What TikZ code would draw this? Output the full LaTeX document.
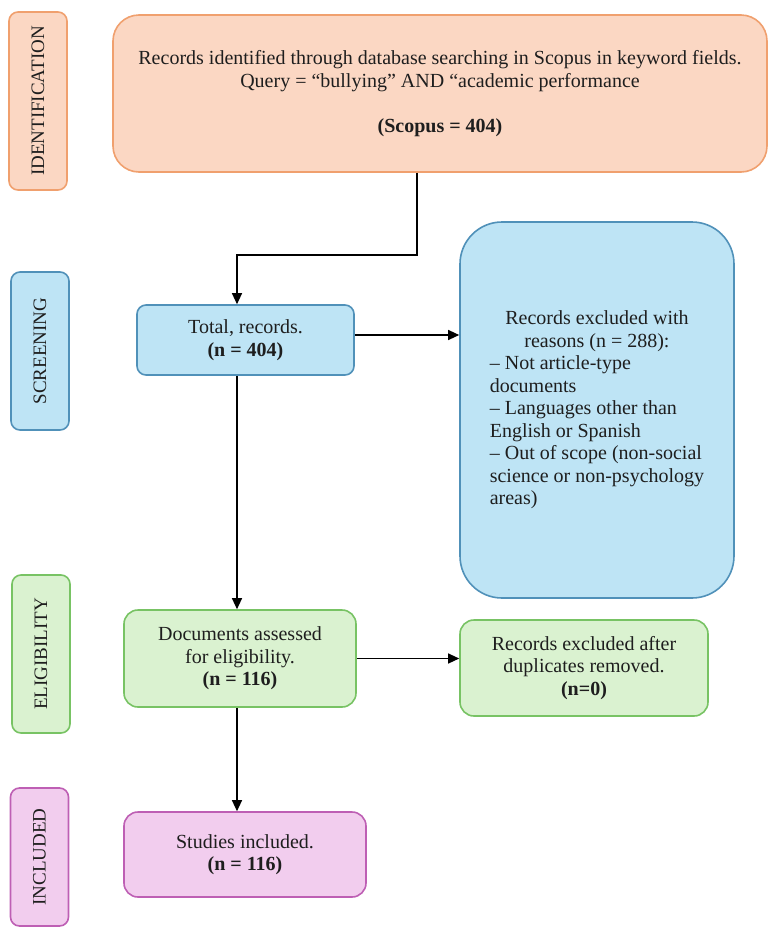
\documentclass[tikz,border=0pt]{standalone}
\usepackage{fontspec}
\setmainfont{Liberation Serif}
\usetikzlibrary{arrows.meta}
\definecolor{orF}{RGB}{251,215,195}
\definecolor{orD}{RGB}{240,160,110}
\definecolor{blF}{RGB}{190,228,245}
\definecolor{blD}{RGB}{80,145,185}
\definecolor{grF}{RGB}{218,242,208}
\definecolor{grD}{RGB}{120,195,100}
\definecolor{pkF}{RGB}{242,205,238}
\definecolor{pkD}{RGB}{190,95,180}
\definecolor{txt}{RGB}{30,30,30}
\begin{document}
\begin{tikzpicture}[x=1pt,y=-1pt,
  box/.style={draw,line width=1.6pt,align=center,text=txt,inner sep=0pt,
    font=\fontsize{20}{22.5}\selectfont},
  side/.style={box,rotate=90,minimum height=58pt,rounded corners=9pt,
    font=\fontsize{19}{20}\selectfont},
  arr/.style={line width=1.2pt,-{Triangle[length=11pt,width=10pt]}}]
\useasboundingbox (0,0) rectangle (772,927);
% side labels
\node[side,fill=orF,draw=orD,minimum width=178pt] (lid) at (38,101) {IDENTIFICATION};
\node[side,fill=blF,draw=blD,minimum width=158pt] (lsc) at (40,351) {SCREENING};
\node[side,fill=grF,draw=grD,minimum width=158pt] (lel) at (41,654) {ELIGIBILITY};
\node[side,fill=pkF,draw=pkD,minimum width=138pt] (lin) at (39.5,857) {INCLUDED};
% boxes
\node[box,fill=orF,draw=orD,minimum width=654pt,minimum height=157pt,rounded corners=26pt] (top) at (440,93.5)
  {Records identified through database searching in Scopus in keyword fields.\\
   Query = “bullying” AND “academic performance\\[22.5pt] \textbf{(Scopus = 404)}};
\node[box,fill=blF,draw=blD,minimum width=217pt,minimum height=70pt,rounded corners=9pt] (total) at (245.5,340)
  {Total, records.\\ \textbf{(n = 404)}};
\node[box,fill=blF,draw=blD,minimum width=274pt,minimum height=376pt,rounded corners=42pt] (excl) at (597,410)
  {\begin{tabular}{@{}l@{}}
   \multicolumn{1}{c}{Records excluded with}\\
   \multicolumn{1}{c}{reasons (n = 288):}\\
   – Not article-type\\ documents\\ – Languages other than\\ English or Spanish\\
   – Out of scope (non-social\\ science or non-psychology\\ areas)
   \end{tabular}};
\node[box,fill=grF,draw=grD,minimum width=232pt,minimum height=97pt,rounded corners=14pt] (docs) at (240,658.5)
  {Documents assessed\\ for eligibility.\\ \textbf{(n = 116)}};
\node[box,fill=grF,draw=grD,minimum width=248pt,minimum height=96pt,rounded corners=14pt] (dup) at (584,668)
  {Records excluded after\\ duplicates removed.\\ \textbf{(n=0)}};
\node[box,fill=pkF,draw=pkD,minimum width=242pt,minimum height=85pt,rounded corners=14pt] (stud) at (245,854.5)
  {Studies included.\\ \textbf{(n = 116)}};
% connectors
\coordinate (k1) at (417,255);
\coordinate (k2) at (237,255);
\coordinate (k3) at (0,335);
\draw[arr] (top.south -| k1) -- (k1) -- (k2) -- (k2 |- total.north);
\draw[arr] (total.south -| k2) -- (k2 |- docs.north);
\draw[arr] (docs.south -| k2) -- (k2 |- stud.north);
\draw[arr] (total.east |- k3) -- (excl.west |- k3);
\draw[arr] (docs.east) -- (docs.east -| dup.west);
\end{tikzpicture}
\end{document}
